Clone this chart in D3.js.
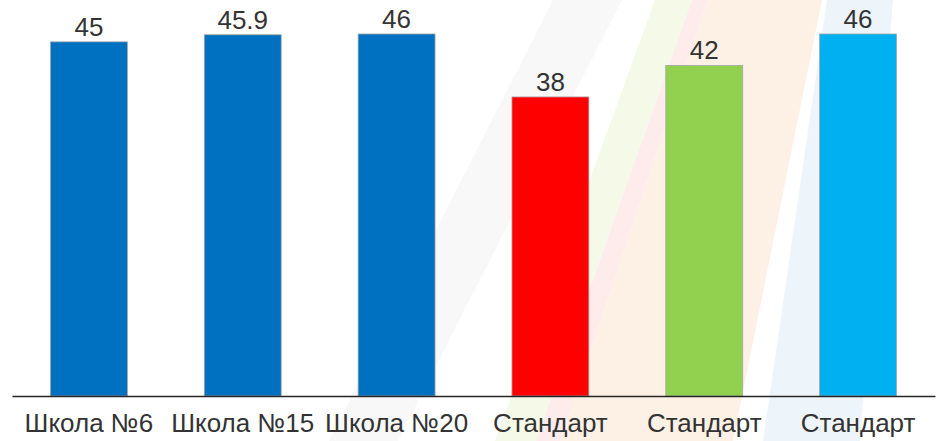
<!DOCTYPE html>
<html>
<head>
<meta charset="utf-8">
<script src="https://cdn.jsdelivr.net/npm/d3@7"></script>
<style>
  html, body { margin: 0; padding: 0; background: #fff; }
  svg { display: block; font-family: "Liberation Sans", Arial, sans-serif; }
</style>
</head>
<body>
<div id="bar-chart"></div>
<script>
// chart data
const categories = ["Школа №6", "Школа №15", "Школа №20", "Стандарт", "Стандарт", "Стандарт"];
const values = [45, 45.9, 46, 38, 42, 46];
const barColors = ["#0070c0", "#0070c0", "#0070c0", "#ff0000", "#92d050", "#00b0f0"];
const valueLabels = ["45", "45.9", "46", "38", "42", "46"];

// set dimensions
const width = 943;
const height = 441;
const baseline = 396;

const svg = d3.select("#bar-chart")
  .append("svg")
    .attr("width", width)
    .attr("height", height);

// faint diagonal stripes in the background (decoration)
const stripes = [
  { fill: "#f8f8f8", pts: [[553, 0], [622, 0], [398, 441], [329, 441]] },
  { fill: "#f4f9e8", pts: [[655, 0], [692, 0], [536, 441], [495, 441]] },
  { fill: "#fdeceb", pts: [[692, 0], [708, 0], [560, 441], [536, 441]] },
  { fill: "#fdf0e5", pts: [[708, 0], [822, 0], [733, 441], [560, 441]] },
  { fill: "#eef5fa", pts: [[827, 0], [893, 0], [860, 441], [763, 441]] }
];
svg.append("g")
  .selectAll("polygon")
  .data(stripes)
  .join("polygon")
    .attr("points", d => d.pts.map(p => p.join(",")).join(" "))
    .attr("fill", d => d.fill);

// scales
const x = d3.scaleBand()
  .domain(d3.range(categories.length))
  .range([12, 935])
  .paddingInner(0.5)
  .paddingOuter(0.25);

const y = d3.scaleLinear()
  .domain([0, 50])
  .range([baseline, 2.5]);

// bars
svg.append("g")
  .selectAll("rect")
  .data(values)
  .join("rect")
    .attr("x", (d, i) => x(i))
    .attr("y", d => y(d))
    .attr("width", x.bandwidth())
    .attr("height", d => baseline - y(d))
    .attr("fill", (d, i) => barColors[i])
    .attr("stroke", "#a6a6a6")
    .attr("stroke-width", 0.8);

// value labels
svg.append("g")
  .selectAll("text")
  .data(values)
  .join("text")
    .attr("x", (d, i) => x(i) + x.bandwidth() / 2)
    .attr("y", d => y(d) - 6)
    .attr("text-anchor", "middle")
    .attr("font-size", 26)
    .attr("fill", "#333")
    .text((d, i) => valueLabels[i]);

// x axis
const xAxis = svg.append("g")
  .attr("transform", "translate(0," + baseline + ")")
  .call(d3.axisBottom(x).tickSize(0).tickPadding(18).tickFormat(i => categories[i]));

xAxis.select(".domain")
  .attr("stroke", "#262626")
  .attr("stroke-width", 1.5);

xAxis.selectAll("text")
  .attr("font-size", 26)
  .attr("font-family", "\"Liberation Sans\", Arial, sans-serif")
  .attr("fill", "#333");
</script>
</body>
</html>
